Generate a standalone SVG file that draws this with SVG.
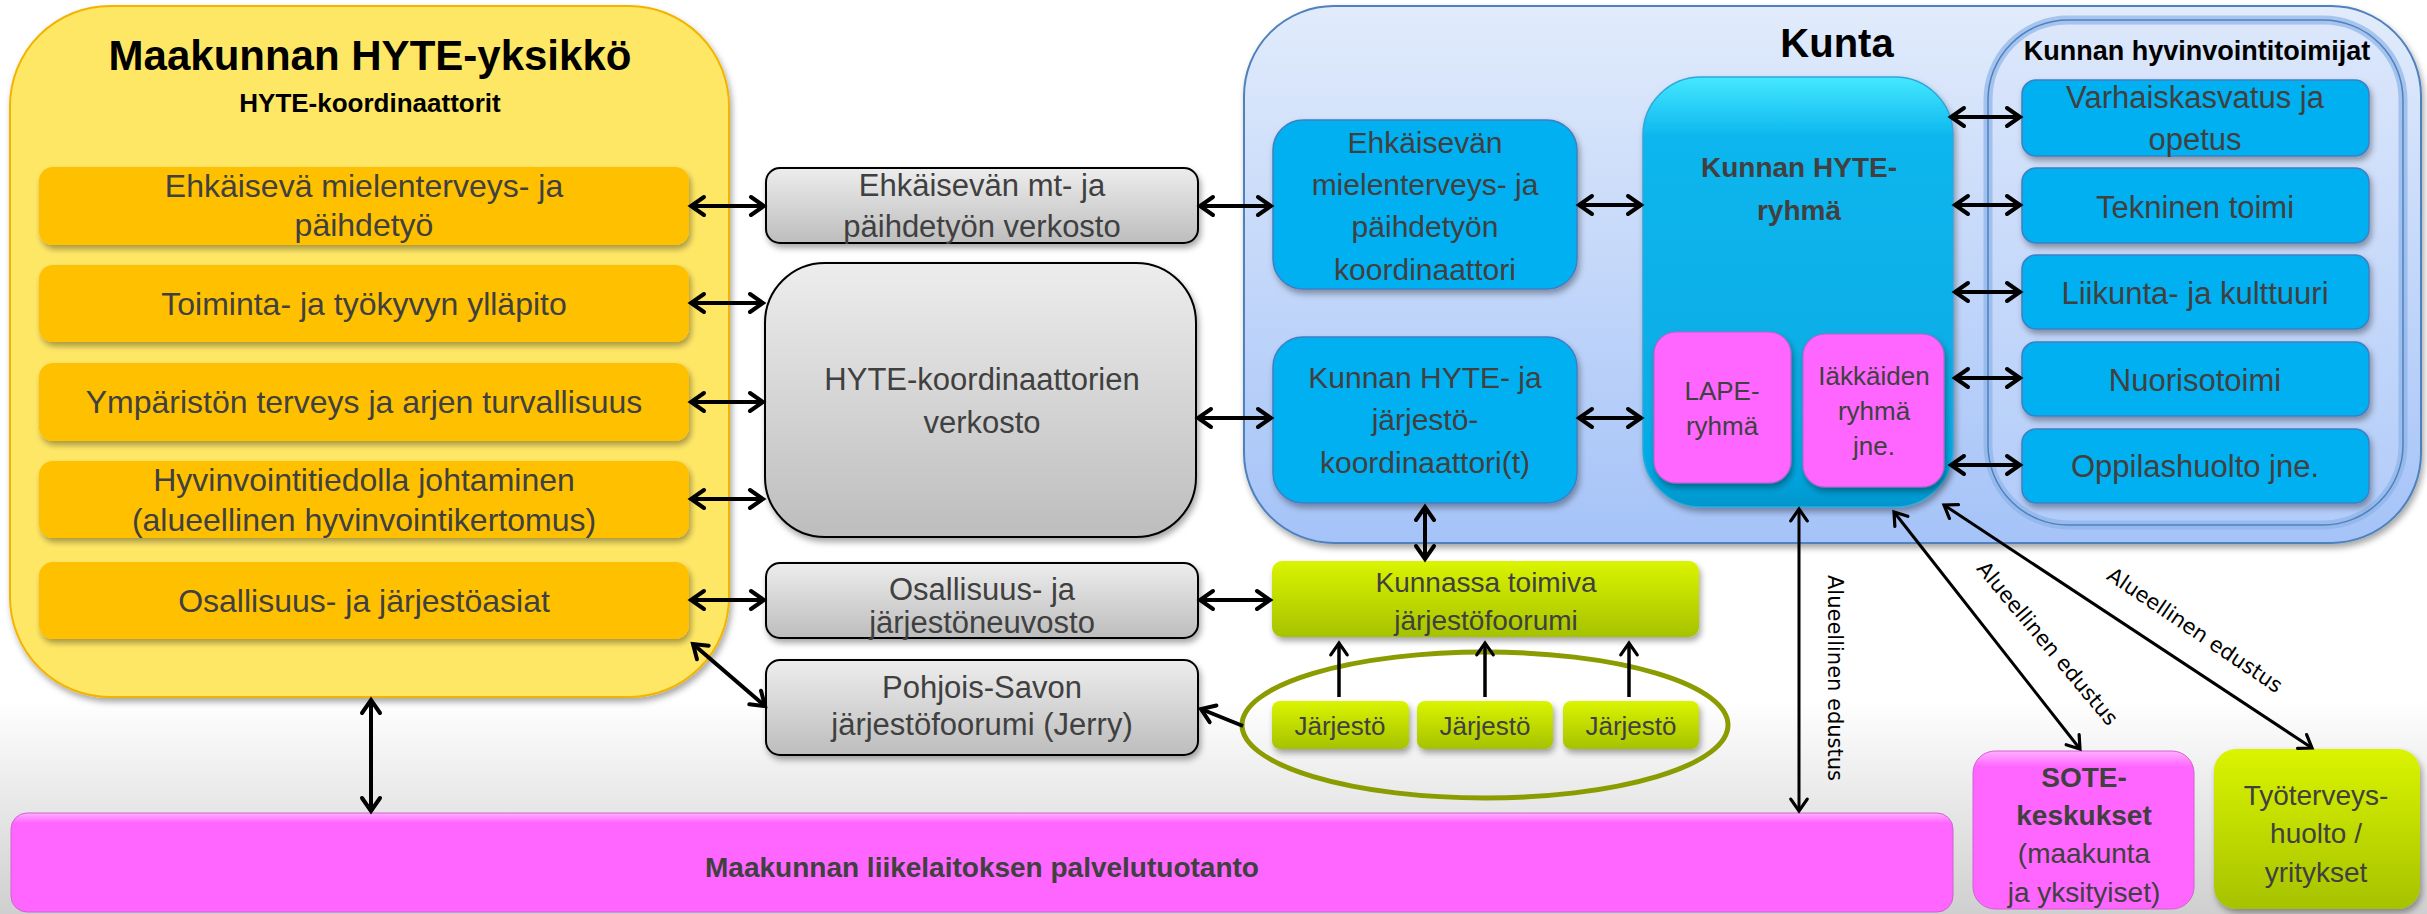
<svg xmlns="http://www.w3.org/2000/svg" width="2427" height="914" viewBox="0 0 2427 914">
<defs>
<style>
.t{font-family:"Liberation Sans",Arial,sans-serif;fill:#404040;text-anchor:middle}
.b{font-weight:bold}
.k{fill:#000}
.lab{font-family:"DejaVu Sans",Verdana,sans-serif;font-size:21px;fill:#000;text-anchor:middle}
.orange{fill:#FFC000;filter:url(#sh)}
.grey{fill:url(#gGrey);stroke:#000;stroke-width:2;filter:url(#sh)}
.blue{fill:#00B0F0;stroke:#3F7FC4;stroke-width:1.5;filter:url(#sh)}
.pink{fill:#FF66FF;stroke:#B565C8;stroke-width:1.2;filter:url(#sh)}
.green{fill:url(#gGreen);filter:url(#sh)}
.ar{fill:none;stroke:#000;stroke-width:4;marker-end:url(#ah);marker-start:url(#ah)}
.ar1{fill:none;stroke:#000;stroke-width:4;marker-end:url(#ah)}
.ar3{fill:none;stroke:#000;stroke-width:3;marker-end:url(#ahs);marker-start:url(#ahs)}
.ar3s{fill:none;stroke:#000;stroke-width:3.5;marker-end:url(#ahs)}
</style>
<filter id="sh" x="-10%" y="-10%" width="120%" height="130%">
<feDropShadow dx="2" dy="4" stdDeviation="3" flood-color="#000" flood-opacity="0.35"/>
</filter>
<linearGradient id="gBg" x1="0" y1="0" x2="0" y2="1">
<stop offset="0" stop-color="#FFFFFF"/>
<stop offset="1" stop-color="#CFCFCF"/>
</linearGradient>
<linearGradient id="gGrey" x1="0" y1="0" x2="0" y2="1">
<stop offset="0" stop-color="#EDEDED"/>
<stop offset="1" stop-color="#BDBDBD"/>
</linearGradient>
<linearGradient id="gKunta" x1="0" y1="0" x2="0" y2="1">
<stop offset="0" stop-color="#E1EBFB"/>
<stop offset="1" stop-color="#A5C3F8"/>
</linearGradient>
<linearGradient id="gHyv" x1="0" y1="0" x2="0" y2="1">
<stop offset="0" stop-color="#DCE7FB"/>
<stop offset="1" stop-color="#B2CCF9"/>
</linearGradient>
<linearGradient id="gRyhma" x1="0" y1="0" x2="0" y2="1">
<stop offset="0" stop-color="#45E8FF"/>
<stop offset="0.14" stop-color="#0CB6EE"/>
<stop offset="0.9" stop-color="#06AAE4"/>
<stop offset="1" stop-color="#0096CC"/>
</linearGradient>
<linearGradient id="gGreen" x1="0" y1="0" x2="0" y2="1">
<stop offset="0" stop-color="#DAF400"/>
<stop offset="1" stop-color="#A6C200"/>
</linearGradient>
<linearGradient id="gPink" x1="0" y1="0" x2="0" y2="1">
<stop offset="0" stop-color="#FFB0FF"/>
<stop offset="0.1" stop-color="#FF66FF"/>
<stop offset="1" stop-color="#FF66FF"/>
</linearGradient>
<marker id="ah" viewBox="0 0 24 24" refX="20" refY="12" markerWidth="24" markerHeight="24" markerUnits="userSpaceOnUse" orient="auto-start-reverse">
<path d="M7,3 L20,12 L7,21" fill="none" stroke="#000" stroke-width="4" stroke-linecap="round" stroke-linejoin="miter"/>
</marker>
<marker id="ahs" viewBox="0 0 24 24" refX="20" refY="12" markerWidth="22" markerHeight="22" markerUnits="userSpaceOnUse" orient="auto-start-reverse">
<path d="M7,3 L20,12 L7,21" fill="none" stroke="#000" stroke-width="3.5" stroke-linecap="round"/>
</marker>
</defs>

<rect x="0" y="0" width="2427" height="914" fill="#FFFFFF"/>
<rect x="0" y="700" width="2427" height="214" fill="url(#gBg)"/>

<g id="maakunta-hyte">
<rect x="10" y="6" width="719" height="691" rx="100" ry="100" fill="#FFE766" stroke="#F2B400" stroke-width="2" filter="url(#sh)"/>
<text class="t b k" x="370" y="70" font-size="42">Maakunnan HYTE-yksikkö</text>
<text class="t b k" x="370" y="112" font-size="26">HYTE-koordinaattorit</text>
</g>
<g id="o1"><rect class="orange" x="39" y="167" width="650" height="78" rx="14"/>
<text class="t" x="364" y="197" font-size="32">Ehkäisevä mielenterveys- ja</text>
<text class="t" x="364" y="236" font-size="32">päihdetyö</text></g>
<g id="o2"><rect class="orange" x="39" y="265" width="650" height="77" rx="14"/>
<text class="t" x="364" y="315" font-size="32">Toiminta- ja työkyvyn ylläpito</text></g>
<g id="o3"><rect class="orange" x="39" y="363" width="650" height="78" rx="14"/>
<text class="t" x="364" y="413" font-size="32">Ympäristön terveys ja arjen turvallisuus</text></g>
<g id="o4"><rect class="orange" x="39" y="461" width="650" height="77" rx="14"/>
<text class="t" x="364" y="491" font-size="32">Hyvinvointitiedolla johtaminen</text>
<text class="t" x="364" y="531" font-size="32">(alueellinen hyvinvointikertomus)</text></g>
<g id="o5"><rect class="orange" x="39" y="562" width="650" height="77" rx="14"/>
<text class="t" x="364" y="612" font-size="32">Osallisuus- ja järjestöasiat</text></g>

<g id="g1"><rect class="grey" x="766" y="168" width="432" height="75" rx="14"/>
<text class="t" x="982" y="196" font-size="31">Ehkäisevän mt- ja</text>
<text class="t" x="982" y="237" font-size="31">päihdetyön verkosto</text></g>
<g id="g2"><rect class="grey" x="765" y="263" width="431" height="274" rx="60"/>
<text class="t" x="982" y="390" font-size="31">HYTE-koordinaattorien</text>
<text class="t" x="982" y="433" font-size="31">verkosto</text></g>
<g id="g3"><rect class="grey" x="766" y="563" width="432" height="75" rx="14"/>
<text class="t" x="982" y="600" font-size="31">Osallisuus- ja</text>
<text class="t" x="982" y="633" font-size="31">järjestöneuvosto</text></g>
<g id="g4"><rect class="grey" x="766" y="660" width="432" height="95" rx="14"/>
<text class="t" x="982" y="698" font-size="31">Pohjois-Savon</text>
<text class="t" x="982" y="735" font-size="31">järjestöfoorumi (Jerry)</text></g>

<g id="kunta">
<rect x="1244" y="6" width="1177" height="537" rx="90" fill="url(#gKunta)" stroke="#4F81BD" stroke-width="2" filter="url(#sh)"/>
<text class="t b k" x="1837" y="57" font-size="40">Kunta</text>
</g>
<g id="hyvinvointitoimijat">
<rect x="1988" y="20" width="415" height="505" rx="80" fill="url(#gHyv)" stroke="#8DB4E8" stroke-width="9" stroke-opacity="0.7"/>
<rect x="1988" y="20" width="415" height="505" rx="80" fill="none" stroke="#4F81BD" stroke-width="1.5"/>
<text class="t b k" x="2197" y="60" font-size="27">Kunnan hyvinvointitoimijat</text>
</g>
<g id="b-ehk"><rect class="blue" x="1273" y="120" width="304" height="169" rx="30"/>
<text class="t" x="1425" y="153" font-size="30">Ehkäisevän</text>
<text class="t" x="1425" y="195" font-size="30">mielenterveys- ja</text>
<text class="t" x="1425" y="237" font-size="30">päihdetyön</text>
<text class="t" x="1425" y="280" font-size="30">koordinaattori</text></g>
<g id="b-koord"><rect class="blue" x="1273" y="337" width="304" height="166" rx="30"/>
<text class="t" x="1425" y="388" font-size="30">Kunnan HYTE- ja</text>
<text class="t" x="1425" y="430" font-size="30">järjestö-</text>
<text class="t" x="1425" y="473" font-size="30">koordinaattori(t)</text></g>
<g id="ryhma"><rect x="1643" y="77" width="310" height="430" rx="58" fill="url(#gRyhma)" stroke="#2FA6DA" stroke-width="1.5" filter="url(#sh)"/>
<text class="t b" x="1799" y="177" font-size="28">Kunnan HYTE-</text>
<text class="t b" x="1799" y="220" font-size="28">ryhmä</text></g>
<g id="lape"><rect class="pink" x="1654" y="332" width="137" height="151" rx="22"/>
<text class="t" x="1722" y="400" font-size="26">LAPE-</text>
<text class="t" x="1722" y="435" font-size="26">ryhmä</text></g>
<g id="iakkaat"><rect class="pink" x="1803" y="334" width="141" height="153" rx="22"/>
<text class="t" x="1874" y="385" font-size="26">Iäkkäiden</text>
<text class="t" x="1874" y="420" font-size="26">ryhmä</text>
<text class="t" x="1874" y="455" font-size="26">jne.</text></g>

<g id="r1"><rect class="blue" x="2022" y="80" width="347" height="76" rx="14"/>
<text class="t" x="2195" y="108" font-size="31">Varhaiskasvatus ja</text>
<text class="t" x="2195" y="150" font-size="31">opetus</text></g>
<g id="r2"><rect class="blue" x="2022" y="168" width="347" height="75" rx="14"/>
<text class="t" x="2195" y="218" font-size="31">Tekninen toimi</text></g>
<g id="r3"><rect class="blue" x="2022" y="255" width="347" height="74" rx="14"/>
<text class="t" x="2195" y="304" font-size="31">Liikunta- ja kulttuuri</text></g>
<g id="r4"><rect class="blue" x="2022" y="342" width="347" height="74" rx="14"/>
<text class="t" x="2195" y="391" font-size="31">Nuorisotoimi</text></g>
<g id="r5"><rect class="blue" x="2022" y="429" width="347" height="74" rx="14"/>
<text class="t" x="2195" y="477" font-size="31">Oppilashuolto jne.</text></g>

<g id="foorumi"><rect class="green" x="1272" y="561" width="427" height="76" rx="10"/>
<text class="t" x="1486" y="592" font-size="28">Kunnassa toimiva</text>
<text class="t" x="1486" y="630" font-size="28">järjestöfoorumi</text></g>
<g id="jarjestot">
<ellipse cx="1485" cy="725" rx="243" ry="73" fill="none" stroke="#8A9C00" stroke-width="5"/>
</g>
<g id="j1"><rect class="green" x="1272" y="701" width="137" height="48" rx="8"/>
<text class="t" x="1340" y="735" font-size="26">Järjestö</text></g>
<g id="j2"><rect class="green" x="1417" y="701" width="136" height="48" rx="8"/>
<text class="t" x="1485" y="735" font-size="26">Järjestö</text></g>
<g id="j3"><rect class="green" x="1563" y="701" width="136" height="48" rx="8"/>
<text class="t" x="1631" y="735" font-size="26">Järjestö</text></g>

<g id="palvelutuotanto"><rect x="11" y="813" width="1942" height="99" rx="16" fill="url(#gPink)" stroke="#D060D0" stroke-width="1"/>
<text class="t b" x="982" y="877" font-size="28">Maakunnan liikelaitoksen palvelutuotanto</text></g>
<g id="sote"><rect x="1973" y="751" width="221" height="158" rx="22" fill="url(#gPink)" stroke="#D060D0" stroke-width="1"/>
<text class="t b" x="2084" y="787" font-size="28">SOTE-</text>
<text class="t b" x="2084" y="825" font-size="28">keskukset</text>
<text class="t" x="2084" y="863" font-size="28">(maakunta</text>
<text class="t" x="2084" y="902" font-size="28">ja yksityiset)</text></g>
<g id="tyoterveys"><rect class="green" x="2214" y="749" width="206" height="160" rx="22"/>
<text class="t" x="2316" y="805" font-size="28">Työterveys-</text>
<text class="t" x="2316" y="843" font-size="28">huolto /</text>
<text class="t" x="2316" y="882" font-size="28">yritykset</text></g>

<g id="connectors">
<line class="ar" x1="691" y1="206" x2="764" y2="206"/>
<line class="ar" x1="691" y1="303" x2="763" y2="303"/>
<line class="ar" x1="691" y1="402" x2="763" y2="402"/>
<line class="ar" x1="691" y1="499" x2="763" y2="499"/>
<line class="ar" x1="691" y1="600" x2="764" y2="600"/>
<line class="ar" x1="693" y1="644" x2="765" y2="706"/>
<line class="ar" x1="371" y1="700" x2="371" y2="811"/>
<line class="ar" x1="1200" y1="206" x2="1271" y2="206"/>
<line class="ar" x1="1198" y1="418" x2="1271" y2="418"/>
<line class="ar" x1="1200" y1="600" x2="1270" y2="600"/>
<line class="ar1" x1="1243" y1="726" x2="1201" y2="709"/>
<line class="ar" x1="1579" y1="205" x2="1641" y2="205"/>
<line class="ar" x1="1579" y1="418" x2="1641" y2="418"/>
<line class="ar" x1="1951" y1="117" x2="2020" y2="117"/>
<line class="ar" x1="1955" y1="205" x2="2020" y2="205"/>
<line class="ar" x1="1955" y1="292" x2="2020" y2="292"/>
<line class="ar" x1="1955" y1="378" x2="2020" y2="378"/>
<line class="ar" x1="1951" y1="465" x2="2020" y2="465"/>
<line class="ar" x1="1425" y1="507" x2="1425" y2="559"/>
<line class="ar3s" x1="1339" y1="697" x2="1339" y2="643"/>
<line class="ar3s" x1="1485" y1="697" x2="1485" y2="643"/>
<line class="ar3s" x1="1629" y1="697" x2="1629" y2="643"/>
<line class="ar3" x1="1799" y1="509" x2="1799" y2="811"/>
<line class="ar3" x1="1894" y1="512" x2="2080" y2="749"/>
<line class="ar3" x1="1944" y1="505" x2="2312" y2="748"/>
<text class="lab" transform="translate(1828,678) rotate(90)">Alueellinen edustus</text>
<text class="lab" transform="translate(2042,648) rotate(50)">Alueellinen edustus</text>
<text class="lab" transform="translate(2191,636) rotate(34)">Alueellinen edustus</text>
</g>
</svg>
